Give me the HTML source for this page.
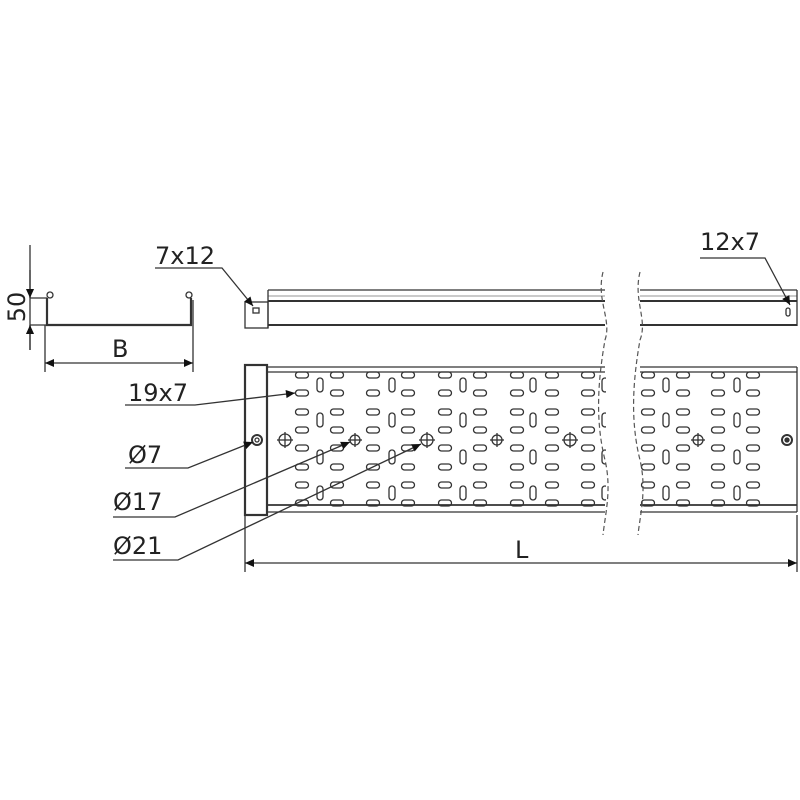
<!DOCTYPE html>
<html><head><style>body{margin:0;background:#fff}svg{display:block}text{font-family:"DejaVu Sans","Liberation Sans",sans-serif;font-size:24px;fill:#222}</style></head>
<body>
<svg id="s" width="800" height="800" viewBox="0 0 800 800" xmlns="http://www.w3.org/2000/svg">
<defs>
<marker id="a" viewBox="0 0 10 10" refX="10" refY="5" markerWidth="18" markerHeight="9" markerUnits="userSpaceOnUse" orient="auto"><path d="M0,0.5 L10,5 L0,9.5 z" fill="#111"/></marker>
</defs>
<g stroke="#333" fill="none" stroke-width="1.3">
<path d="M47,298 L47,325 L191,325 L191,298" stroke-width="2.2"/>
<circle cx="50" cy="295" r="3"/><circle cx="189" cy="295" r="3"/>
<line x1="30" y1="245" x2="30" y2="350"/>
<line x1="30" y1="298" x2="47" y2="298"/><line x1="30" y1="325" x2="47" y2="325"/>
<line x1="30" y1="270" x2="30" y2="298" marker-end="url(#a)"/>
<line x1="30" y1="350" x2="30" y2="325" marker-end="url(#a)"/>
<line x1="45" y1="325" x2="45" y2="372"/><line x1="193" y1="300" x2="193" y2="372"/>
<line x1="120" y1="363" x2="45" y2="363" marker-end="url(#a)"/>
<line x1="120" y1="363" x2="193" y2="363" marker-end="url(#a)"/>
<rect x="245" y="302" width="23" height="26"/>
<rect x="253" y="308" width="6" height="5"/>
<line x1="268" y1="290" x2="605" y2="290"/><line x1="268" y1="296" x2="605" y2="296" stroke="#aaa"/>
<line x1="268" y1="301" x2="605" y2="301" stroke-width="2"/><line x1="268" y1="325" x2="605" y2="325" stroke-width="2"/>
<line x1="268" y1="290" x2="268" y2="328"/>
<line x1="640" y1="290" x2="797" y2="290"/><line x1="640" y1="296" x2="797" y2="296" stroke="#aaa"/>
<line x1="640" y1="301" x2="797" y2="301" stroke-width="2"/><line x1="640" y1="325" x2="797" y2="325" stroke-width="2"/>
<line x1="797" y1="290" x2="797" y2="326"/>
<rect x="786" y="308" width="4" height="8" rx="2"/>
<line x1="267" y1="367" x2="605" y2="367"/><line x1="267" y1="372" x2="605" y2="372"/>
<line x1="267" y1="505" x2="605" y2="505" stroke-width="1.8"/><line x1="267" y1="512" x2="605" y2="512"/>
<line x1="640" y1="367" x2="797" y2="367"/><line x1="640" y1="372" x2="797" y2="372"/>
<line x1="640" y1="505" x2="797" y2="505" stroke-width="1.8"/><line x1="640" y1="512" x2="797" y2="512"/>
<line x1="797" y1="367" x2="797" y2="512"/>
<rect x="245" y="365" width="22" height="150" stroke-width="2.2"/>
<circle cx="257" cy="440" r="5" stroke-width="2"/><circle cx="257" cy="440" r="2"/>
<circle cx="787" cy="440" r="5" stroke-width="2"/><circle cx="787" cy="440" r="2" fill="#333"/>
<g id="slots"></g>
<line x1="245" y1="515" x2="245" y2="572"/><line x1="797" y1="515" x2="797" y2="572"/>
<line x1="520" y1="563" x2="245" y2="563" marker-end="url(#a)"/>
<line x1="520" y1="563" x2="797" y2="563" marker-end="url(#a)"/>
<path d="M155,268 L222,268 L253,306" marker-end="url(#a)"/>
<path d="M700,258 L765,258 L790,305" marker-end="url(#a)"/>
<path d="M125,405 L195,405 L295,393" marker-end="url(#a)"/>
<path d="M125,468 L188,468 L253,442" marker-end="url(#a)"/>
<path d="M113,517 L175,517 L350,442" marker-end="url(#a)"/>
<path d="M113,560 L178,560 L421,444" marker-end="url(#a)"/>
</g>
<rect x="606" y="270" width="33" height="265" fill="#fff"/>
<g stroke="#555" fill="none" stroke-width="1.2" stroke-dasharray="5,3">
<path d="M603,272 C596,300 612,320 605,340 C598,380 595,420 605,460 C612,490 605,515 603,535"/>
<path d="M640,272 C633,300 648,320 640,340 C633,380 630,420 640,460 C647,490 640,515 638,535"/>
</g>
<text x="5" y="0" transform="translate(25,312) rotate(-90)" text-anchor="middle">50</text>
<text x="112" y="357">B</text>
<text x="155" y="264">7x12</text>
<text x="700" y="250">12x7</text>
<text x="128" y="401">19x7</text>
<text x="128" y="463">Ø7</text>
<text x="113" y="510">Ø17</text>
<text x="113" y="554">Ø21</text>
<text x="515" y="558">L</text>
</svg>
<script>
var g=document.getElementById('slots'),h='';
var hx=[302,337,373,408,445,480,517,552,588,648,683,718,753],hy=[375,393,412,430,448,467,485,503];
hx.forEach(function(x){hy.forEach(function(y){h+='<rect x="'+(x-6.5)+'" y="'+(y-3)+'" width="13" height="6" rx="3"/>';});});
[320,392,463,533,605,666,737].forEach(function(x){[385,420,457,493].forEach(function(y){h+='<rect x="'+(x-3)+'" y="'+(y-7)+'" width="6" height="14" rx="3"/>';});});
[[285,6],[355,5],[427,6],[497,5],[570,6],[698,5]].forEach(function(c){var x=c[0],r=c[1];h+='<circle cx="'+x+'" cy="440" r="'+r+'"/><line x1="'+(x-r-2)+'" y1="440" x2="'+(x+r+2)+'" y2="440"/><line x1="'+x+'" y1="'+(440-r-2)+'" x2="'+x+'" y2="'+(440+r+2)+'"/>';});
g.innerHTML=h;
</script>
</body></html>
